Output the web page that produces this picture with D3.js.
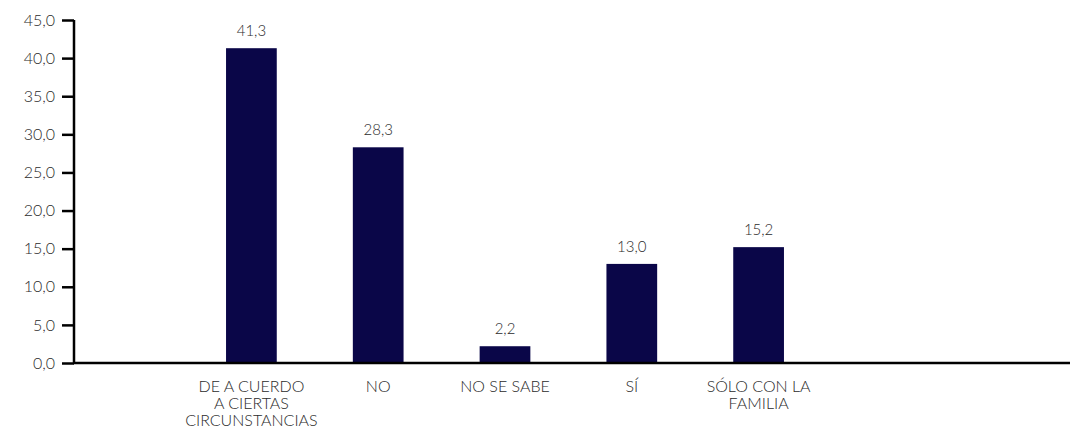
<!DOCTYPE html>
<html>
<head>
<meta charset="utf-8">
<script src="https://cdn.jsdelivr.net/npm/d3@7"></script>
<style>
  html, body { margin: 0; padding: 0; background: #fff; }
  svg { display: block; font-family: Lato, "Open Sans", sans-serif; font-weight: 300; }
</style>
</head>
<body>
<svg id="chart" width="1073" height="430"></svg>
<script>
// Categories (line breaks marked with "\n") and their percentages
const categories = [
  "DE A CUERDO\nA CIERTAS\nCIRCUNSTANCIAS",
  "NO",
  "NO SE SABE",
  "SÍ",
  "SÓLO CON LA\nFAMILIA"
];
const values = [41.3, 28.3, 2.2, 13.0, 15.2];
const yTicks = [0, 5, 10, 15, 20, 25, 30, 35, 40, 45];

const axisLeft = 74, axisRight = 1070;
const plotTop = 20, plotBottom = 363;
const barColor = "#0a0648";
const textColor = "#2b2b2b";

const locale = d3.formatLocale({ decimal: ",", thousands: ".", grouping: [3], currency: ["", ""] });
const fmt = locale.format(".1f");

const svg = d3.select("#chart");

const y = d3.scaleLinear().domain([0, 45]).range([plotBottom, plotTop]);
const x = d3.scaleBand()
  .domain(categories)
  .range([188, 822])
  .paddingInner(0.6)
  .paddingOuter(0.3);

// Bars
svg.append("g").selectAll("rect")
  .data(values)
  .join("rect")
  .attr("x", (d, i) => x(categories[i]))
  .attr("width", x.bandwidth())
  .attr("y", d => y(d))
  .attr("height", d => y(0) - y(d))
  .attr("fill", barColor);

// Value labels above bars
svg.append("g").selectAll("text")
  .data(values)
  .join("text")
  .attr("x", (d, i) => x(categories[i]) + x.bandwidth() / 2)
  .attr("y", d => y(d) - 12)
  .attr("text-anchor", "middle")
  .attr("font-size", 15)
  .attr("fill", textColor)
  .text(d => fmt(d));

// Y axis
const yAxis = svg.append("g")
  .attr("transform", `translate(${axisLeft},0)`)
  .call(d3.axisLeft(y).tickValues(yTicks).tickFormat(fmt).tickSize(12).tickPadding(7));
yAxis.select(".domain").attr("stroke", "#000").attr("stroke-width", 2.5)
  .attr("d", `M0,${plotTop}V${plotBottom}`);
yAxis.selectAll(".tick line").attr("stroke", "#000").attr("stroke-width", 2.5);
yAxis.selectAll(".tick text")
  .attr("font-size", 16)
  .attr("font-family", "Lato, 'Open Sans', sans-serif")
  .attr("font-weight", 300)
  .attr("fill", textColor);

// X axis baseline
svg.append("line")
  .attr("x1", axisLeft - 1).attr("x2", axisRight)
  .attr("y1", y(0)).attr("y2", y(0))
  .attr("stroke", "#000").attr("stroke-width", 2.5);

// Category labels (multi-line, centred under each bar)
const catG = svg.append("g").selectAll("text")
  .data(categories)
  .join("text")
  .attr("text-anchor", "middle")
  .attr("font-size", 16)
  .attr("fill", textColor)
  .attr("transform", d => `translate(${x(d) + x.bandwidth() / 2},${plotBottom + 29})`);
catG.each(function(d) {
  const t = d3.select(this);
  d.split("\n").forEach((line, i) => {
    t.append("tspan").attr("x", 0).attr("y", i * 17).text(line);
  });
});
</script>
</body>
</html>
